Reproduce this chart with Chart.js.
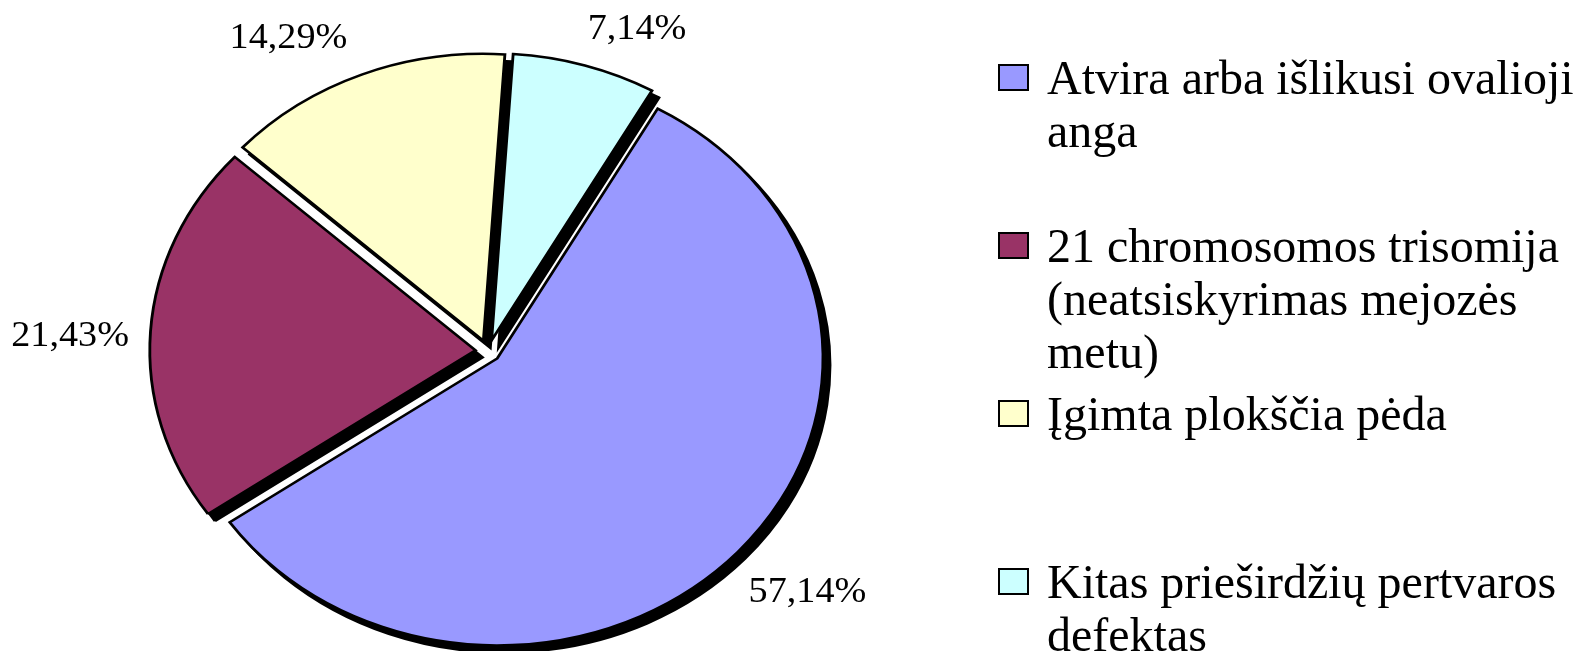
<!DOCTYPE html>
<html>
<head>
<meta charset="utf-8">
<script src="https://cdn.jsdelivr.net/npm/chart.js@4.4.1/dist/chart.umd.min.js"></script>
<style>
  html, body { margin: 0; padding: 0; background: #fff; overflow: hidden; }
  #wrap { position: relative; width: 1596px; height: 651px; }
  #chart { position: absolute; left: 0; top: 0; }
  .item {
    position: absolute; left: 998px; width: 598px;
    font-family: "Liberation Serif", "Times New Roman", serif;
    font-size: 48px; line-height: 53px; color: #000;
  }
  .box { position: absolute; left: 0; top: 13px; width: 27px; height: 23px; border: 2.5px solid #000; }
  .txt { position: absolute; left: 49px; top: 0; width: 549px; }
</style>
</head>
<body>
<div id="wrap">
  <canvas id="chart" width="1596" height="651"></canvas>
  <div id="legend"></div>
</div>
<script>
const categories = [
  "Atvira arba išlikusi ovalioji anga",
  "21 chromosomos trisomija (neatsiskyrimas mejozės metu)",
  "Įgimta plokščia pėda",
  "Kitas prieširdžių pertvaros defektas"
];
const shares = [57.14, 21.43, 14.29, 7.14];
const sliceColors = ["#9999ff", "#993366", "#ffffcc", "#ccffff"];

// the picture is a bit wider than tall, so the pie is an ellipse
const STRETCH = 1.135;
const EXPLODE = 11;
const SHADOW = 7;
const LABEL_GAP = 38;
const LABEL_SX = 1.06;
const labelNudge = [[-12, 8], [9, 16], [-3, -2], [-6, -1]];

const fmt = v => v.toFixed(2).replace(".", ",") + "%";

const centerOf = chart => ({
  x: (chart.chartArea.left + chart.chartArea.right) / 2,
  y: (chart.chartArea.top + chart.chartArea.bottom) / 2
});

function stretch(ctx, c) {
  ctx.translate(c.x, c.y);
  ctx.scale(STRETCH, 1);
  ctx.translate(-c.x, -c.y);
}

const pieLook = {
  id: "pieLook",
  afterDatasetsUpdate(chart) {
    chart.getDatasetMeta(0).data.forEach(arc => {
      const mid = (arc.startAngle + arc.endAngle) / 2;
      arc.x += Math.cos(mid) * EXPLODE;
      arc.y += Math.sin(mid) * EXPLODE;
    });
  },
  beforeDatasetsDraw(chart) {
    const ctx = chart.ctx;
    const c = centerOf(chart);
    const arcs = chart.getDatasetMeta(0).data;

    // black drop shadow under every slice
    ctx.save();
    ctx.translate(SHADOW, SHADOW);
    stretch(ctx, c);
    arcs.forEach(arc => {
      const ghost = Object.create(arc);
      ghost.options = { ...arc.options, backgroundColor: "#000", borderColor: "#000" };
      ghost.draw(ctx);
    });
    ctx.restore();

    ctx.save();
    stretch(ctx, c);
  },
  afterDatasetsDraw(chart) {
    const ctx = chart.ctx;
    ctx.restore();

    const c = centerOf(chart);
    const meta = chart.getDatasetMeta(0);
    ctx.save();
    ctx.font = '36px "Liberation Serif", "Times New Roman", serif';
    ctx.fillStyle = "#000";
    ctx.textAlign = "center";
    ctx.textBaseline = "alphabetic";
    meta.data.forEach((arc, i) => {
      const mid = (arc.startAngle + arc.endAngle) / 2;
      const rho = arc.outerRadius + LABEL_GAP;
      const px = c.x + STRETCH * rho * Math.cos(mid);
      const py = c.y + rho * Math.sin(mid);
      const text = fmt(shares[i]);
      const hw = ctx.measureText(text).width * LABEL_SX / 2;
      const x = px + Math.sign(Math.cos(mid)) * hw + labelNudge[i][0];
      const y = py + Math.sign(Math.sin(mid)) * 12 + labelNudge[i][1];
      ctx.save();
      ctx.translate(x, y + 12);
      ctx.scale(LABEL_SX, 1);
      ctx.fillText(text, 0, 0);
      ctx.restore();
    });
    ctx.restore();
  }
};

new Chart(document.getElementById("chart"), {
  type: "pie",
  data: {
    labels: categories,
    datasets: [{
      data: shares,
      backgroundColor: sliceColors,
      borderColor: "#000",
      borderWidth: 2.5,
      borderJoinStyle: "miter",
      clip: false
    }]
  },
  options: {
    responsive: false,
    devicePixelRatio: 1,
    animation: false,
    rotation: 29.5,
    radius: 287,
    layout: { padding: { left: 150, right: 770, top: 55, bottom: 4 } },
    plugins: {
      legend: { display: false },
      tooltip: { enabled: false }
    },
    events: []
  },
  plugins: [pieLook]
});

// legend, laid out like the spreadsheet one
const LEGEND_TOP = 51;
const LEGEND_STEP = 168;
const legend = document.getElementById("legend");
categories.forEach((name, i) => {
  const item = document.createElement("div");
  item.className = "item";
  item.style.top = (LEGEND_TOP + i * LEGEND_STEP) + "px";
  const box = document.createElement("div");
  box.className = "box";
  box.style.background = sliceColors[i];
  const txt = document.createElement("div");
  txt.className = "txt";
  txt.textContent = name;
  item.appendChild(box);
  item.appendChild(txt);
  legend.appendChild(item);
});
</script>
</body>
</html>
